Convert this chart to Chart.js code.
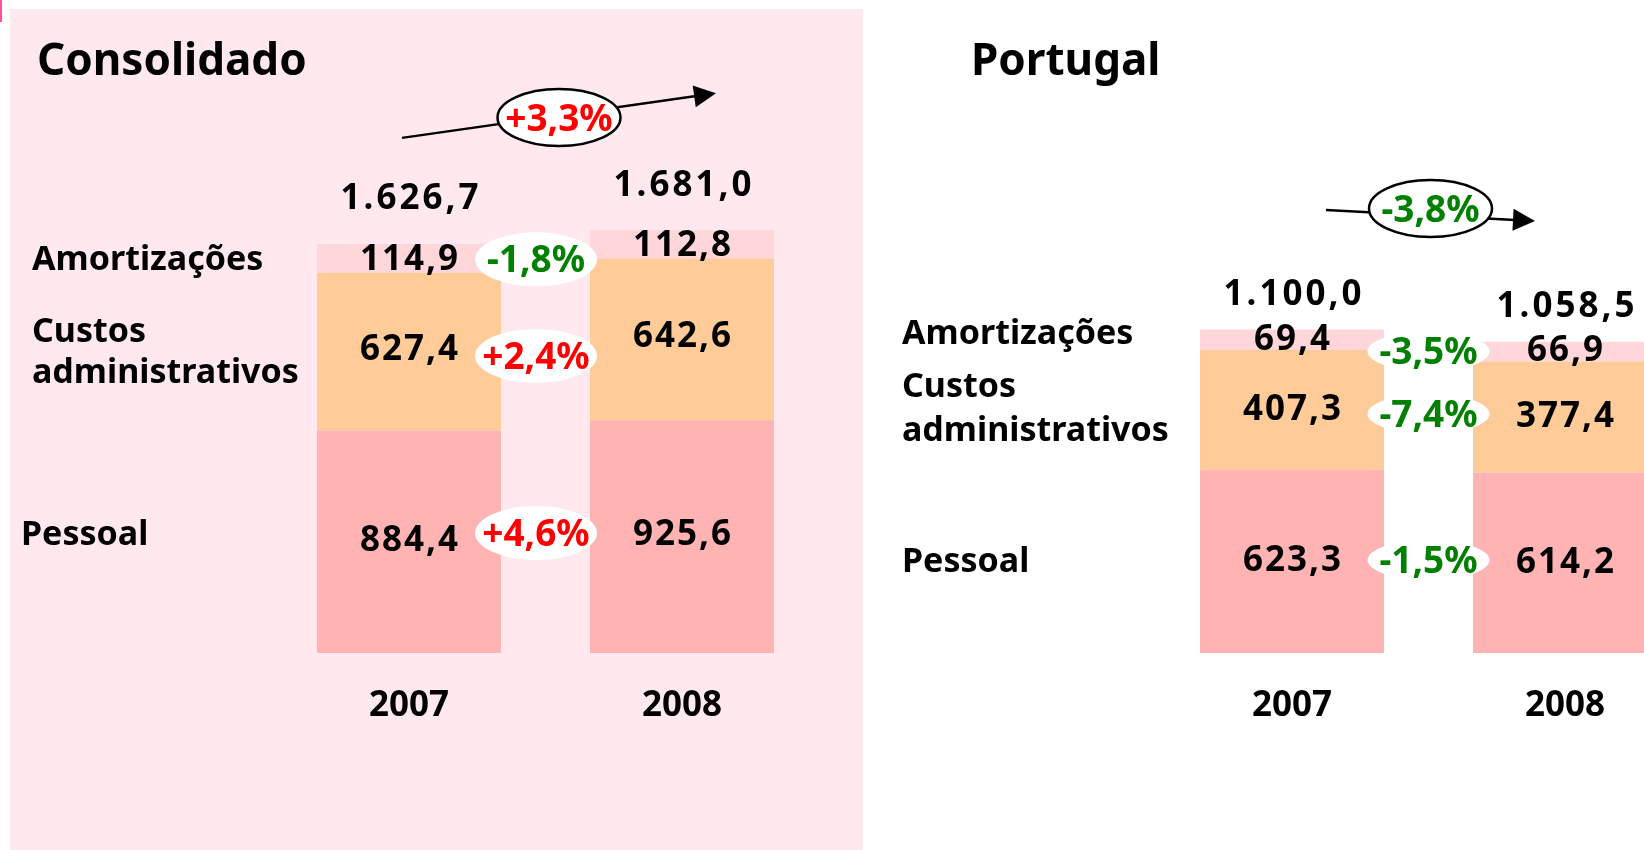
<!DOCTYPE html>
<html>
<head>
<meta charset="utf-8">
<script src="https://cdn.jsdelivr.net/npm/chart.js@4/dist/chart.umd.min.js"></script>
<style>
  html, body { margin: 0; padding: 0; background: #fff; width: 1644px; height: 850px; overflow: hidden; position: relative; }
  .panel { position: absolute; left: 10px; top: 9px; width: 853px; height: 841px; background: #ffe9ee; }
  .mark { position: absolute; left: 0; top: 0; width: 2px; height: 22px; background: #ff4fa0; }
  canvas { position: absolute; top: 0; }
  #cons { left: 0; }
  #pt { left: 870px; }
</style>
</head>
<body>
<div class="panel"></div>
<div class="mark"></div>
<canvas id="cons" width="870" height="850"></canvas>
<canvas id="pt" width="840" height="850"></canvas>
<script>
const years = ['2007', '2008']
// rows bottom -> top
const rowNames = [['Pessoal'], ['Custos', 'administrativos'], ['Amortizações']]
const rowColors = ['#ffb3b3', '#ffcc99', '#ffd6d9']

// Consolidado
const consPessoal = [884.4, 925.6]
const consCustos = [627.4, 642.6]
const consAmort = [114.9, 112.8]
const consTotal = [1626.7, 1681.0]
const consRowChange = [4.6, 2.4, -1.8]
const consTotalChange = 3.3

// Portugal
const ptPessoal = [623.3, 614.2]
const ptCustos = [407.3, 377.4]
const ptAmort = [69.4, 66.9]
const ptTotal = [1100.0, 1058.5]
const ptRowChange = [-1.5, -7.4, -3.5]
const ptTotalChange = -3.8

const FONT = '"Noto Sans", "Open Sans", sans-serif'

function fmt(v) {
  const [i, d] = v.toFixed(1).split('.')
  return i.replace(/\B(?=(\d{3})+(?!\d))/g, '.') + ',' + d
}
function fmtPct(v) {
  return (v > 0 ? '+' : '-') + Math.abs(v).toFixed(1).replace('.', ',') + '%'
}
const pctColor = (v) => (v > 0 ? '#ff0000' : '#008000')

// ── annotations: values, change bubbles, totals, arrow, labels ─────────────
const decor = {
  id: 'decor',
  afterDatasetsDraw(chart, args, o) {
    const { ctx } = chart
    const y = chart.scales.y
    const metas = chart.data.datasets.map((_, i) => chart.getDatasetMeta(i))
    const cx = metas[0].data.map((b) => b.x)
    const mid = (r, i) => {
      const b = metas[r].data[i]
      return (b.y + b.base) / 2
    }
    const tops = o.totals.map((t) => y.getPixelForValue(t))

    ctx.save()
    ctx.textAlign = 'center'
    ctx.textBaseline = 'alphabetic'
    ctx.font = `bold 35px ${FONT}`

    // segment values
    ctx.fillStyle = '#000'
    ctx.letterSpacing = '2px'
    chart.data.datasets.forEach((ds, r) => {
      ds.data.forEach((v, i) => ctx.fillText(fmt(v), cx[i] + 1, mid(r, i) + o.valueDy[r] + 12.5))
    })

    // totals
    ctx.letterSpacing = '3px'
    o.totals.forEach((t, i) => ctx.fillText(fmt(t), cx[i] + 2, tops[i] + o.totalDy + 12.5))
    ctx.letterSpacing = '0px'

    // change bubbles between bars
    ctx.font = `bold 37px ${FONT}`
    const gx = (cx[0] + cx[1]) / 2 + o.pctDx
    o.rowChange.forEach((p, r) => {
      const cy = (mid(r, 0) + mid(r, 1)) / 2 + o.pctDy[r]
      ctx.beginPath()
      ctx.ellipse(gx, cy, o.bubble[0] / 2, o.bubble[1] / 2, 0, 0, Math.PI * 2)
      ctx.fillStyle = '#fff'
      ctx.fill()
      ctx.fillStyle = pctColor(p)
      ctx.fillText(fmtPct(p), gx, cy + 13)
    })

    // total change arrow
    const a = o.arrow
    const x0 = cx[0] + a.from[0], y0 = tops[0] + a.from[1]
    const x1 = cx[1] + a.to[0], y1 = tops[1] + a.to[1]
    const ang = Math.atan2(y1 - y0, x1 - x0)
    ctx.strokeStyle = '#000'
    ctx.lineWidth = 2.5
    ctx.beginPath()
    ctx.moveTo(x0, y0)
    ctx.lineTo(x1 - 20 * Math.cos(ang), y1 - 20 * Math.sin(ang))
    ctx.stroke()
    ctx.save()
    ctx.translate(x1, y1)
    ctx.rotate(ang)
    ctx.beginPath()
    ctx.moveTo(0, 0)
    ctx.lineTo(-22, -11)
    ctx.lineTo(-22, 11)
    ctx.closePath()
    ctx.fillStyle = '#000'
    ctx.fill()
    ctx.restore()
    const ex = (x0 + x1) / 2 + a.ell[0], ey = (y0 + y1) / 2 + a.ell[1]
    ctx.beginPath()
    ctx.ellipse(ex, ey, 61.5, 28.5, 0, 0, Math.PI * 2)
    ctx.fillStyle = '#fff'
    ctx.fill()
    ctx.stroke()
    ctx.fillStyle = pctColor(o.totalChange)
    ctx.fillText(fmtPct(o.totalChange), ex, ey + 13)

    // title
    ctx.textAlign = 'left'
    ctx.fillStyle = '#000'
    ctx.font = `bold 44px ${FONT}`
    ctx.fillText(o.title, o.titleX, 75)

    // row labels on the left
    ctx.font = `bold 34px ${FONT}`
    o.labels.forEach((lab, r) => {
      lab.dy.forEach((d, k) => ctx.fillText(rowNames[r][k], lab.x, mid(r, 0) + d))
    })
    ctx.restore()
  },
}

function makeChart(id, rows, ymax, padding, deco) {
  return new Chart(document.getElementById(id), {
    type: 'bar',
    data: {
      labels: years,
      datasets: rows.map((data, r) => ({
        label: rowNames[r].join(' '),
        data,
        backgroundColor: rowColors[r],
        borderWidth: 0,
        barPercentage: 0.674,
        categoryPercentage: 1,
      })),
    },
    options: {
      responsive: false,
      animation: false,
      events: [],
      layout: { padding },
      plugins: { legend: { display: false }, tooltip: { enabled: false }, decor: deco },
      scales: {
        x: {
          stacked: true,
          grid: { display: false, drawTicks: false },
          border: { display: false },
          ticks: { color: '#000', padding: 32, font: { family: FONT, size: 35, weight: 'bold' } },
        },
        y: { stacked: true, display: false, min: 0, max: ymax },
      },
    },
    plugins: [decor],
  })
}

makeChart('cons', [consPessoal, consCustos, consAmort], 2000,
  { left: 272.5, right: 51.5, top: 150, bottom: 91 },
  {
    title: 'Consolidado', titleX: 37,
    totals: consTotal, totalDy: -47,
    valueDy: [-3.7, -4.5, -1],
    rowChange: consRowChange, pctDx: -9.5, pctDy: [-6.2, 10.4, 8], bubble: [122, 54],
    totalChange: consTotalChange,
    arrow: { from: [-7, -106], to: [34, -137], ell: [0, 2] },
    labels: [{ x: 21, dy: [3.2] }, { x: 32, dy: [-9.7, 31.3] }, { x: 32, dy: [11.6] }],
  })

makeChart('pt', [ptPessoal, ptCustos, ptAmort], 1500,
  { left: 285.5, right: 8.5, top: 212, bottom: 91 },
  {
    title: 'Portugal', titleX: 101,
    totals: ptTotal, totalDy: -37.5,
    valueDy: [-2.7, -2.7, -2.7],
    rowChange: ptRowChange, pctDx: 0, pctDy: [-2, 0.5, 5.7], bubble: [122, 40],
    totalChange: ptTotalChange,
    arrow: { from: [34, -119.6], to: [-30, -120.8], ell: [0, -7] },
    labels: [{ x: 32, dy: [10.6] }, { x: 32, dy: [-13, 31] }, { x: 32, dy: [4] }],
  })
</script>
</body>
</html>
